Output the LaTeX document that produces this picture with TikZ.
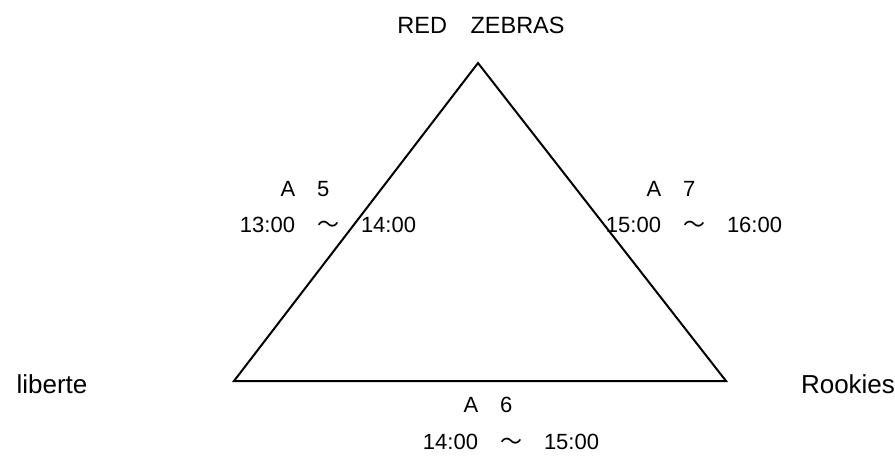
\documentclass[tikz,border=0pt]{standalone}
\usepackage{fontspec}
\setmainfont{Liberation Sans}
\newfontfamily\cjk{Noto Sans CJK JP}
\newcommand{\fw}{{\cjk　}}
\newcommand{\wave}{{\cjk　～　}}
\begin{document}
\begin{tikzpicture}[x=1pt,y=-1pt,
  edge/.style={line width=2pt,line join=miter},
  lab/.style={inner sep=0pt,anchor=base,font=\fontsize{22}{26}\selectfont},
  toplab/.style={inner sep=0pt,anchor=base,font=\fontsize{23.5}{28}\selectfont},
  corner/.style={inner sep=0pt,anchor=base,font=\fontsize{26}{30}\selectfont}]
\useasboundingbox (0,0) rectangle (895,457);
\coordinate (T) at (478,63);
\coordinate (L) at (234,381);
\coordinate (R) at (726,381);
\draw[edge] (T) -- (R) -- (L) -- cycle;
\node[toplab] (top) at (481,34) {RED\fw ZEBRAS};
\node[corner] (lib) at (52,393) {liberte};
\node[corner] (rook) at (848,393) {Rookies};
\node[lab] (a5) at (305,197) {A\fw 5};
\node[lab] (t5) at (328,233) {13:00\wave 14:00};
\node[lab] (a7) at (671,197) {A\fw 7};
\node[lab] (t7) at (694,233) {15:00\wave 16:00};
\node[lab] (a6) at (488,412) {A\fw 6};
\node[lab] (t6) at (511,449) {14:00\wave 15:00};
\end{tikzpicture}
\end{document}
